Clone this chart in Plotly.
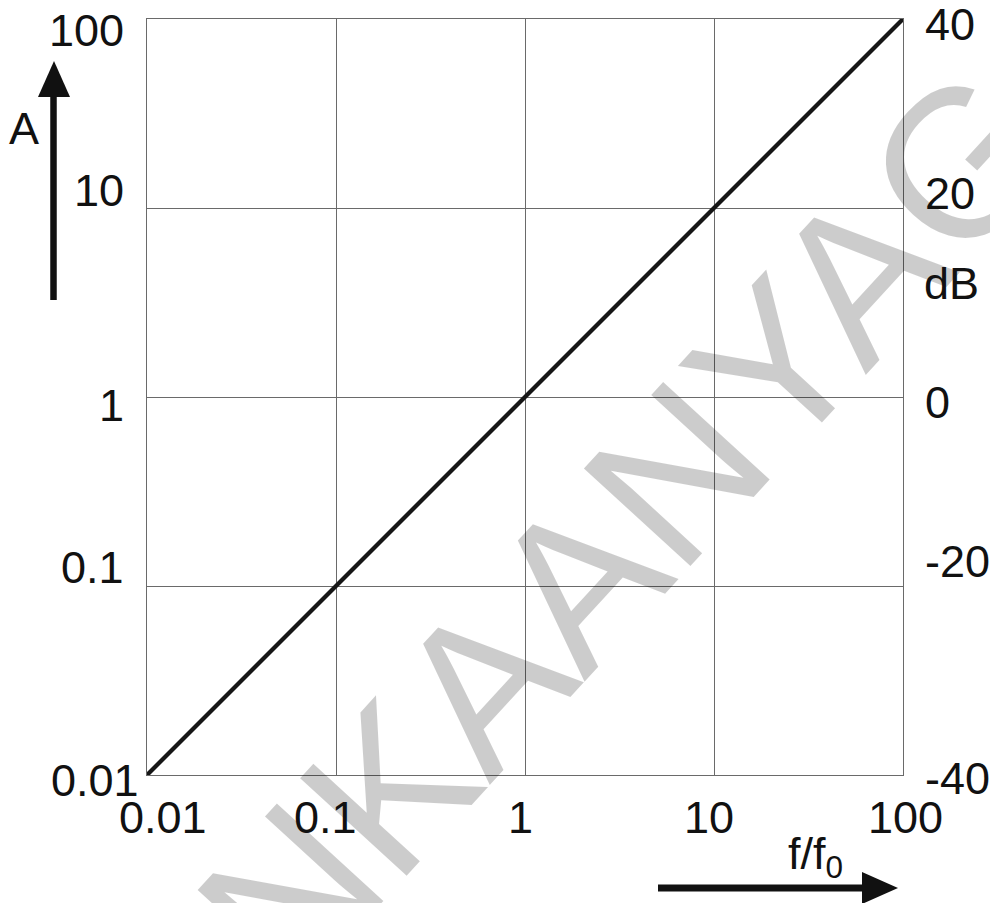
import math
import plotly.graph_objects as go

# ---- data ----
freq_ratio = [0.01, 0.1, 1, 10, 100]          # f/f0
gain = [0.01, 0.1, 1, 10, 100]                # A
x_tick_labels = ["0.01", "0.1", "1", "10", "100"]
y_tick_labels = ["0.01", "0.1", "1", "10", "100"]
db_ticks = [40, 20, 0, -20, -40]
db_tick_labels = ["40", "20", "0", "-20", "-40"]
watermark = "INKAANYAG"

# page geometry (browser body has an 8px margin)
OFF = 8
PW, PH = 998, 903
L, R, T, B = 147, 903, 19, 775
FIG_W, FIG_H = PW - OFF, PH - OFF
FONT = "Liberation Sans, Arial, sans-serif"
FS = 45


def px(x):
    return (x - L) / (R - L)


def py(y):
    return (B - y) / (B - T)


fig = go.Figure()
fig.add_trace(go.Scatter(x=freq_ratio, y=gain, mode="lines",
                         line=dict(color="#161616", width=4.2),
                         showlegend=False, hoverinfo="skip"))

axis_common = dict(type="log", range=[-2, 2], showgrid=True, gridcolor="#6a6a6a",
                   gridwidth=1, showline=True, linecolor="#6a6a6a", linewidth=1,
                   mirror=True, showticklabels=False, ticks="", zeroline=False,
                   tickvals=freq_ratio)
fig.update_xaxes(**axis_common)
fig.update_yaxes(**axis_common)

ann = []
# watermark
ann.append(dict(text=watermark, xref="paper", yref="paper", x=px(608), y=py(548),
                xanchor="center", yanchor="middle",
                showarrow=False, textangle=-47.5,
                font=dict(family=FONT, size=210, color="rgba(0,0,0,0.2)")))

# left tick labels (A)
left_shift = {"100": (-21, -11), "10": (-21, 18), "1": (-21, -8),
              "0.1": (-21, 19), "0.01": (-6, -5)}
for v, lab in zip(gain, y_tick_labels):
    xs, ys = left_shift[lab]
    ann.append(dict(text=lab, xref="paper", yref="y", x=0, y=math.log10(v),
                    xanchor="right", yanchor="middle", xshift=xs, yshift=ys,
                    showarrow=False, font=dict(family=FONT, size=FS, color="#111")))

# bottom tick labels (f/f0)
bottom_shift = {"0.01": 16, "0.1": -11, "1": -5, "10": -5, "100": 2}
for v, lab in zip(freq_ratio, x_tick_labels):
    ann.append(dict(text=lab, xref="x", yref="paper", x=math.log10(v), y=0,
                    xanchor="center", yanchor="middle", xshift=bottom_shift[lab], yshift=-42,
                    showarrow=False, font=dict(family=FONT, size=FS, color="#111")))

# right tick labels (dB)
right_shift = {"40": -5, "20": 15, "0": -5, "-20": 25, "-40": -3}
for d, lab in zip(db_ticks, db_tick_labels):
    ann.append(dict(text=lab, xref="paper", yref="y", x=1, y=d / 20,
                    xanchor="left", yanchor="middle", xshift=20, yshift=right_shift[lab],
                    showarrow=False, font=dict(family=FONT, size=FS, color="#111")))

# axis titles
ann.append(dict(text="dB", xref="paper", yref="paper", x=1, y=py(283),
                xanchor="left", yanchor="middle", xshift=19, showarrow=False,
                font=dict(family=FONT, size=FS, color="#111")))
ann.append(dict(text="A", xref="paper", yref="paper", x=px(24), y=py(128),
                xanchor="center", yanchor="middle", showarrow=False,
                font=dict(family=FONT, size=FS, color="#111")))
ann.append(dict(text="f/f<sub>0</sub>", xref="paper", yref="paper", x=px(815), y=py(857),
                xanchor="center", yanchor="middle", showarrow=False,
                font=dict(family=FONT, size=FS, color="#111")))

shapes = [
    # vertical arrow (A)
    dict(type="line", xref="paper", yref="paper", x0=px(53.5), x1=px(53.5),
         y0=py(300), y1=py(92), line=dict(color="#111", width=6.5)),
    dict(type="path", xref="paper", yref="paper",
         path=f"M {px(38)} {py(97)} L {px(70)} {py(97)} L {px(54)} {py(61)} Z",
         fillcolor="#111", line=dict(width=0)),
    # horizontal arrow (f/f0)
    dict(type="line", xref="paper", yref="paper", x0=px(658), x1=px(866),
         y0=py(888), y1=py(888), line=dict(color="#111", width=7)),
    dict(type="path", xref="paper", yref="paper",
         path=f"M {px(862)} {py(872)} L {px(862)} {py(904)} L {px(898)} {py(888)} Z",
         fillcolor="#111", line=dict(width=0)),
]

fig.update_layout(width=FIG_W, height=FIG_H,
                  margin=dict(l=L - OFF, r=PW - R, t=T - OFF, b=PH - B),
                  plot_bgcolor="white", paper_bgcolor="white",
                  annotations=ann, shapes=shapes, showlegend=False)

fig.write_html("out.html")
